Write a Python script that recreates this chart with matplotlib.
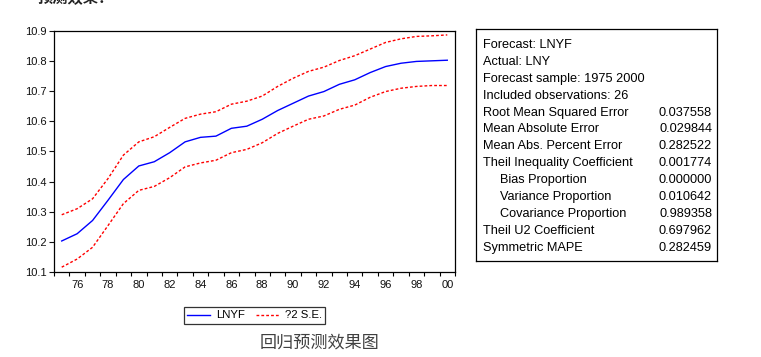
import matplotlib
matplotlib.use("Agg")
import matplotlib.pyplot as plt
from matplotlib.lines import Line2D

plt.rcParams["font.family"] = ["Liberation Sans", "Noto Sans CJK SC", "DejaVu Sans"]

YEARS = list(range(1975, 2001))
LNYF = [10.203, 10.227, 10.271, 10.338, 10.407, 10.452, 10.466, 10.496, 10.532,
        10.547, 10.551, 10.577, 10.584, 10.607, 10.636, 10.660, 10.684, 10.699,
        10.723, 10.738, 10.762, 10.782, 10.793, 10.799, 10.801, 10.803]
UPPER = [10.290, 10.310, 10.343, 10.410, 10.488, 10.532, 10.549, 10.580, 10.610,
         10.624, 10.632, 10.657, 10.667, 10.684, 10.716, 10.743, 10.766, 10.780,
         10.802, 10.818, 10.840, 10.862, 10.874, 10.882, 10.884, 10.887]
LOWER = [10.116, 10.143, 10.182, 10.254, 10.327, 10.371, 10.384, 10.413, 10.449,
         10.462, 10.471, 10.496, 10.507, 10.529, 10.560, 10.584, 10.607, 10.618,
         10.640, 10.654, 10.680, 10.699, 10.710, 10.716, 10.719, 10.719]
YTICKS = [10.1, 10.2, 10.3, 10.4, 10.5, 10.6, 10.7, 10.8, 10.9]
XLAB_YEARS = list(range(1976, 2001, 2))

STAT_LABELS = ["Forecast: LNYF", "Actual: LNY", "Forecast sample: 1975 2000",
               "Included observations: 26", "Root Mean Squared Error",
               "Mean Absolute Error", "Mean Abs. Percent Error",
               "Theil Inequality Coefficient", "Bias Proportion",
               "Variance Proportion", "Covariance Proportion",
               "Theil U2 Coefficient", "Symmetric MAPE"]
STAT_VALUES = ["", "", "", "", "0.037558", "0.029844", "0.282522", "0.001774",
               "0.000000", "0.010642", "0.989358", "0.697962", "0.282459"]
INDENTED = {"Bias Proportion", "Variance Proportion", "Covariance Proportion"}

W, H = 761, 357
DASH = (0, (2.0, 1.5))
fig = plt.figure(figsize=(W / 100, H / 100), dpi=100)

# main plot, EViews style
ax = fig.add_axes([54 / W, 1 - 272 / H, (455 - 54) / W, (272 - 31) / H])
ax.plot(YEARS, LNYF, color="#0000ff", lw=1.0)
ax.plot(YEARS, UPPER, color="#ff0000", lw=1.0, ls=DASH)
ax.plot(YEARS, LOWER, color="#ff0000", lw=1.0, ls=DASH)
ax.set_xlim(1974.5, 2000.5)
ax.set_ylim(10.1, 10.9)
ax.set_yticks(YTICKS)
ax.set_yticklabels([f"{v:.1f}" for v in YTICKS])
ax.set_xticks(XLAB_YEARS)
ax.set_xticklabels([f"{y % 100:02d}" for y in XLAB_YEARS])
ax.set_xticks([y + 0.5 for y in range(1974, 2001)], minor=True)
ax.tick_params(axis="x", which="major", length=0, pad=5.5, labelsize=8, colors="#111111")
ax.tick_params(axis="x", which="minor", length=3.2, width=0.8, direction="out")
ax.tick_params(axis="y", which="major", length=3.5, width=0.8, pad=2, labelsize=8,
               colors="#111111")
for s in ax.spines.values():
    s.set_linewidth(0.9)

# legend under the plot
handles = [Line2D([0], [0], color="#0000ff", lw=1.0, label="LNYF"),
           Line2D([0], [0], color="#ff0000", lw=1.0, ls=DASH, label="?2 S.E.")]
leg = fig.legend(handles=handles, ncol=2, loc="center", fontsize=8.2,
                 bbox_to_anchor=(254.5 / W, 1 - 315.5 / H), frameon=True, fancybox=False,
                 handlelength=2.0, handletextpad=0.5, columnspacing=1.0,
                 borderpad=0.3, edgecolor="black")
leg.get_frame().set_linewidth(0.9)

# statistics box
bx0, by0, bx1, by1 = 476, 29, 717, 261
box = fig.add_axes([bx0 / W, 1 - by1 / H, (bx1 - bx0) / W, (by1 - by0) / H])
box.set_xticks([]); box.set_yticks([])
for s in box.spines.values():
    s.set_linewidth(0.9)
for i, (lab, val) in enumerate(zip(STAT_LABELS, STAT_VALUES)):
    yc = 1 - (45 + 16.9 * i - by0) / (by1 - by0)
    xl = (500 if lab in INDENTED else 483) - bx0
    box.text(xl / (bx1 - bx0), yc, lab, fontsize=9.2, va="center", ha="left",
             transform=box.transAxes)
    if val:
        box.text((712 - bx0) / (bx1 - bx0), yc, val, fontsize=9.2, va="center",
                 ha="right", transform=box.transAxes)

# caption and cut-off heading
fig.text(320 / W, 1 - 343 / H, "回归预测效果图", fontsize=12.3, color="#404040",
         ha="center", va="center", family=["Noto Sans CJK SC", "DejaVu Sans"])
fig.text(38 / W, 1 - 3 / H, "预测效果：", fontsize=11, fontweight="bold", color="#222222",
         ha="left", va="baseline", family=["Noto Sans CJK SC", "DejaVu Sans"])

fig.savefig("out.png", dpi=100)
